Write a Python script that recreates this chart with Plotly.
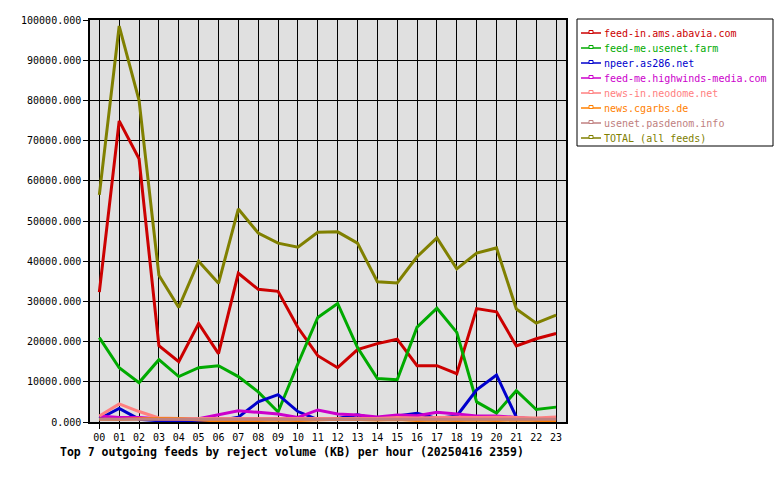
import plotly.graph_objects as go

hours = [f"{h:02d}" for h in range(24)]

names = ["feed-in.ams.abavia.com", "feed-me.usenet.farm", "npeer.as286.net",
         "feed-me.highwinds-media.com", "news-in.neodome.net", "news.cgarbs.de",
         "usenet.pasdenom.info", "TOTAL (all feeds)"]
colors = ["#CC0000", "#00AA00", "#0000CC", "#CC00CC", "#FF8080", "#FF8000", "#C08080", "#808000"]

abavia = [32300, 74900, 65500, 19000, 15000, 24500, 17000, 37000, 33000, 32500, 23500, 16500,
          13500, 18000, 19500, 20600, 14000, 14000, 12000, 28200, 27400, 18900, 20700, 22000]
usenetfarm = [21000, 13500, 9800, 15500, 11300, 13500, 14000, 11300, 7500, 2500, 14500, 26000,
              29500, 18500, 10800, 10500, 23600, 28300, 22300, 5000, 2200, 7800, 3100, 3700]
as286 = [800, 3400, 700, 300, 200, 200, 300, 1200, 5000, 6800, 2600, 600,
         900, 1800, 700, 1500, 2150, 900, 1500, 8000, 11700, 1200, 500, 500]
highwinds = [1500, 1150, 1150, 800, 700, 800, 1800, 2800, 2400, 2000, 1150, 3000,
             2000, 1750, 1250, 1750, 1550, 2400, 2000, 1500, 1500, 1200, 750, 750]
neodome = [1500, 4500, 2600, 1000, 900, 900, 900, 900, 900, 900, 900, 1000,
           1000, 1000, 900, 1100, 1000, 1100, 1200, 1100, 1200, 1100, 1000, 1250]
cgarbs = [700, 600, 800, 900, 800, 500, 250, 250, 400, 500, 400, 600,
          700, 600, 500, 600, 400, 500, 400, 500, 400, 500, 400, 300]
pasdenom = [700, 700, 700, 700, 700, 700, 700, 700, 700, 700, 700, 700,
            700, 700, 700, 700, 700, 700, 700, 700, 700, 700, 700, 700]
total = [56500, 98500, 80000, 36500, 28500, 40000, 34500, 53000, 47000, 44500, 43500, 47200,
         47300, 44500, 34900, 34600, 41100, 45800, 38100, 42000, 43300, 28100, 24600, 26600]

series = [abavia, usenetfarm, as286, highwinds, neodome, cgarbs, pasdenom, total]
yticks = [0, 10000, 20000, 30000, 40000, 50000, 60000, 70000, 80000, 90000, 100000]

# plot area in pixels
L, R, T, B = 90, 566, 20, 422
W, H = R - L, B - T


def px(x):
    return (x - L) / W


def py(y):
    return (B - y) / H


fig = go.Figure()
for nm, col, vals in zip(names, colors, series):
    fig.add_trace(go.Scatter(x=list(range(24)), y=vals, mode="lines", name=nm,
                             line=dict(color=col, width=3), showlegend=False,
                             hoverinfo="skip"))

mono = "DejaVu Sans Mono"

# hand-drawn legend (box, line samples, coloured labels)
shapes = [dict(type="rect", xref="paper", yref="paper",
               x0=px(577), x1=px(773), y0=py(146), y1=py(19),
               line=dict(color="black", width=1), fillcolor="white", layer="above")]
annotations = []
for i, (nm, col) in enumerate(zip(names, colors)):
    yc = 33 + 15 * i
    shapes.append(dict(type="line", xref="paper", yref="paper",
                       x0=px(581), x1=px(601), y0=py(yc), y1=py(yc),
                       line=dict(color=col, width=1.5), layer="above"))
    shapes.append(dict(type="rect", xref="paper", yref="paper",
                       x0=px(589), x1=px(593), y0=py(yc + 0.5), y1=py(yc - 2.5),
                       line=dict(color=col, width=1), fillcolor="white", layer="above"))
    annotations.append(dict(text=nm, xref="paper", yref="paper", x=px(602), y=py(yc),
                            xanchor="left", yanchor="middle", showarrow=False,
                            font=dict(family=mono, size=10, color=col)))

annotations.append(dict(text="<b>Top 7 outgoing feeds by reject volume (KB) per hour (20250416 2359)</b>",
                        xref="paper", yref="paper", x=px(58), y=py(452),
                        xanchor="left", yanchor="middle", showarrow=False,
                        font=dict(family=mono, size=11.5, color="black")))

fig.update_layout(
    width=780, height=480,
    margin=dict(l=L, r=780 - R, t=T, b=480 - B, autoexpand=False),
    paper_bgcolor="white", plot_bgcolor="#E0E0E0",
    font=dict(family=mono, size=10, color="black"),
    showlegend=False,
    xaxis=dict(range=[-0.47, 23.5], tickmode="array", tickvals=list(range(24)),
               ticktext=hours, showgrid=True, gridcolor="black", gridwidth=1,
               showline=True, linecolor="black", linewidth=1.5, mirror=True,
               ticks="outside", ticklen=5, tickcolor="black", zeroline=False,
               fixedrange=True),
    yaxis=dict(range=[0, 100000], tickmode="array", tickvals=yticks,
               ticktext=[f"{v}.000" for v in yticks], showgrid=True,
               gridcolor="black", gridwidth=1, showline=True, linecolor="black",
               linewidth=1.5, mirror=True, ticks="outside", ticklen=5,
               tickcolor="black", zeroline=False, fixedrange=True),
    shapes=shapes,
    annotations=annotations,
)

fig.write_html("out.html")
